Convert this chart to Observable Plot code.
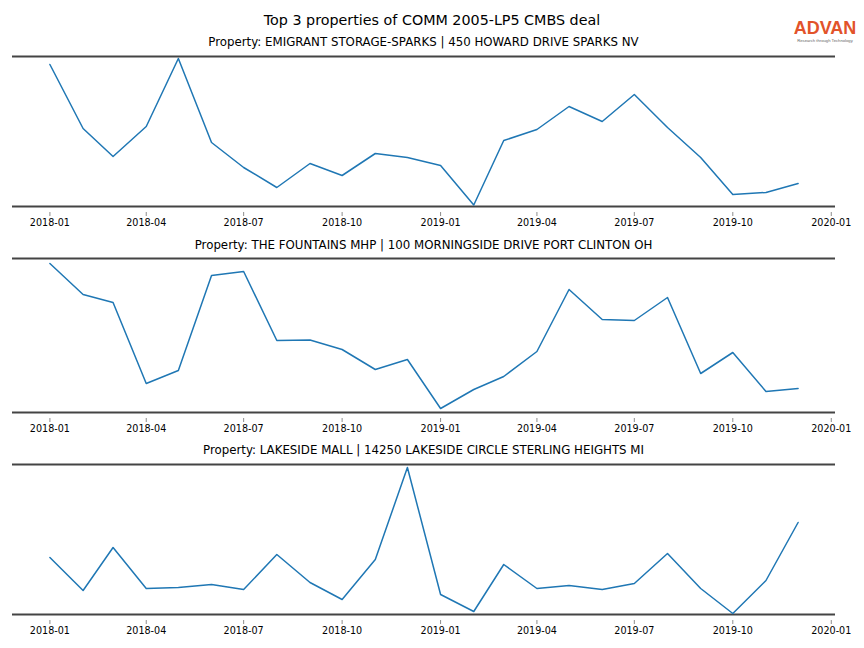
<!DOCTYPE html>
<html>
<head>
<meta charset="utf-8">
<script src="https://cdn.jsdelivr.net/npm/d3@7"></script>
<script src="https://cdn.jsdelivr.net/npm/@observablehq/plot@0.6"></script>
<style>
  html, body { margin: 0; padding: 0; background: #fff; }
  #root { position: relative; width: 864px; height: 648px; overflow: hidden; font-family: "DejaVu Sans", sans-serif; color: #000; }
  .title { position: absolute; left: 0; width: 864px; text-align: center; font-size: 14.3px; line-height: 14.3px; white-space: nowrap; }
  .sub { position: absolute; left: 12px; width: 823px; text-align: center; font-size: 11.8px; line-height: 11.8px; white-space: nowrap; }
  .panel { position: absolute; left: 0; }
  .logo { position: absolute; left: 789px; top: 18.8px; width: 72px; text-align: center; font-family: "Liberation Sans", Arial, sans-serif; font-weight: 700; font-size: 18px; line-height: 18px; color: #e2532a; }
</style>
</head>
<body>
<div id="root"></div>
<script>
// ---- data ----
const months = ["2018-01","2018-02","2018-03","2018-04","2018-05","2018-06","2018-07","2018-08","2018-09","2018-10","2018-11","2018-12",
                "2019-01","2019-02","2019-03","2019-04","2019-05","2019-06","2019-07","2019-08","2019-09","2019-10","2019-11","2019-12"];
const titles = [
  "Property: EMIGRANT STORAGE-SPARKS | 450 HOWARD DRIVE SPARKS NV",
  "Property: THE FOUNTAINS MHP | 100 MORNINGSIDE DRIVE PORT CLINTON OH",
  "Property: LAKESIDE MALL | 14250 LAKESIDE CIRCLE STERLING HEIGHTS MI"
];
// relative activity index (no y axis in the source)
const emigrantValues = [142,78,50,80,148,64,39,19,43,31,53,49,41,1.5,66,77,100,85,112,79,49,12,14,23];
const fountainsValues = [149,118,110,29,42,137,141,72,72.5,63,43,53,4,23,36,61,123,93,92,115,39,60,21,24];
const lakesideValues = [57,24,67,26,27,30,25,60,32,15,55,147,20,3,50,26,29,25,31,61,26,1,34,92];
const yDomains = [[0,150],[0,154],[0,150]];
const mainTitle = "Top 3 properties of COMM 2005-LP5 CMBS deal";
const logoText = "ADVAN";
const logoTag = "Research through Technology";

// ---- layout ----
const root = document.getElementById("root");
const spineTops = [55.7, 258.3, 463.7];
const subTops = [37, 240, 444.5];

const t = document.createElement("div");
t.className = "title"; t.style.top = "13.3px"; t.textContent = mainTitle;
root.appendChild(t);

const logo = document.createElement("div");
logo.className = "logo"; logo.textContent = logoText;
root.appendChild(logo);
const tag = document.createElementNS("http://www.w3.org/2000/svg", "svg");
tag.setAttribute("width", 72); tag.setAttribute("height", 6);
tag.style.position = "absolute"; tag.style.left = "789px"; tag.style.top = "37.6px";
const tt = document.createElementNS("http://www.w3.org/2000/svg", "text");
tt.setAttribute("x", 36); tt.setAttribute("y", 4); tt.setAttribute("text-anchor", "middle");
tt.setAttribute("font-size", "4.2"); tt.setAttribute("fill", "#666");
tt.setAttribute("font-family", "Liberation Sans, Arial, sans-serif");
tt.textContent = logoTag;
tag.appendChild(tt);
root.appendChild(tag);

const parse = d3.utcParse("%Y-%m");
const dates = months.map(parse);
const ext = d3.extent(dates);
const span = ext[1] - ext[0];
const xDomain = [new Date(+ext[0] - 0.05 * span), new Date(+ext[1] + 0.05 * span)];

const series = [emigrantValues, fountainsValues, lakesideValues];
const mt = 3, inset = 6, mb = 24;

series.forEach((vals, i) => {
  const data = dates.map((d, j) => ({date: d, value: vals[j]}));
  const yd = yDomains[i];
  const h = (yd[1] - yd[0]);
  const s = document.createElement("div");
  s.className = "sub"; s.style.top = subTops[i] + "px"; s.textContent = titles[i];
  root.appendChild(s);

  const chart = Plot.plot({
    width: 864,
    height: mt + h + inset + mb,
    marginLeft: 12,
    marginRight: 29,
    marginTop: mt,
    marginBottom: mb,
    insetBottom: inset,
    style: {fontFamily: "DejaVu Sans, sans-serif", fontSize: "9.6px", background: "transparent", color: "#000"},
    x: {type: "utc", domain: xDomain},
    y: {domain: yd, axis: null},
    marks: [
      Plot.ruleY(yd, {stroke: "#444", strokeWidth: 2}),
      Plot.line(data, {x: "date", y: "value", stroke: "#1f77b4", strokeWidth: 1.5}),
      Plot.axisX({ticks: d3.utcMonth.every(3), tickFormat: d3.utcFormat("%Y-%m"), tickSize: 4, tickPadding: 3,
                  stroke: "#000", strokeOpacity: 0.45, fill: "#000", fontSize: 9.6})
    ]
  });
  const wrap = document.createElement("div");
  wrap.className = "panel";
  wrap.style.top = (spineTops[i] - mt) + "px";
  wrap.appendChild(chart);
  root.appendChild(wrap);
});
</script>
</body>
</html>
